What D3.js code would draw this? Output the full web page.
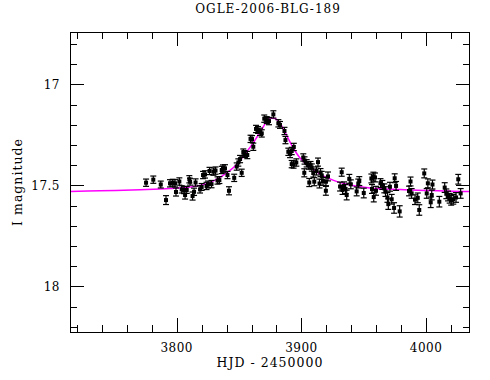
<!DOCTYPE html>
<html>
<head>
<meta charset="utf-8">
<script src="https://cdn.jsdelivr.net/npm/d3@7"></script>
<style>
  body { margin: 0; background: #fff; }
  text { font-family: "DejaVu Serif", serif; fill: #000; }
</style>
</head>
<body>
<div id="chart"></div>
<script>
// light curve
var hjd = [3775.4, 3781.2, 3787.2, 3791.4, 3794.6, 3796.8, 3798.6, 3799.4, 3802.1, 3804.0,
  3805.9, 3808.0, 3806.7, 3810.1, 3810.7, 3812.7, 3813.9, 3815.1, 3818.7, 3820.0,
  3821.1, 3822.7, 3823.9, 3825.1, 3826.3, 3827.9, 3829.4, 3831.1, 3832.7, 3834.2,
  3836.1, 3837.1, 3838.7, 3840.7, 3841.9, 3846.1, 3848.1, 3849.4, 3850.8, 3852.1,
  3853.4, 3854.4, 3856.6, 3859.2, 3860.4, 3861.4, 3863.6, 3865.2, 3866.8, 3868.2,
  3870.2, 3872.2, 3874.0, 3877.5, 3881.5, 3882.8, 3886.4, 3887.2, 3889.5, 3890.9,
  3892.2, 3893.9, 3892.2, 3893.7, 3895.9, 3901.5, 3902.5, 3904.2, 3902.3, 3905.9,
  3907.3, 3908.3, 3906.3, 3910.3, 3909.5, 3912.1, 3913.3, 3914.5, 3915.3, 3916.3,
  3917.3, 3919.7, 3919.6, 3921.3, 3931.0, 3932.3, 3933.0, 3934.2, 3935.4, 3936.3,
  3938.4, 3939.6, 3944.3, 3945.6, 3946.4, 3950.0, 3956.1, 3957.7, 3959.0, 3956.6,
  3958.0, 3959.8, 3963.4, 3964.9, 3966.5, 3967.4, 3969.0, 3969.7, 3971.0, 3972.4,
  3974.3, 3974.8, 3975.9, 3978.8, 3986.3, 3987.5, 3988.4, 3991.1, 3993.3, 3994.5,
  3998.5, 4001.4, 4005.1, 4000.5, 4004.5, 4003.7, 4010.6, 4014.9, 4016.2, 4017.6,
  4018.9, 4020.1, 4021.8, 4024.0, 4025.8, 4027.7];

var imag = [17.487, 17.472, 17.496, 17.573, 17.490, 17.487, 17.490, 17.533, 17.481, 17.520,
  17.523, 17.523, 17.548, 17.470, 17.482, 17.553, 17.532, 17.486, 17.520, 17.508,
  17.449, 17.446, 17.503, 17.496, 17.429, 17.494, 17.432, 17.427, 17.476, 17.474,
  17.424, 17.417, 17.416, 17.449, 17.527, 17.463, 17.407, 17.387, 17.370, 17.438,
  17.338, 17.345, 17.350, 17.270, 17.271, 17.309, 17.221, 17.226, 17.235, 17.243,
  17.170, 17.177, 17.182, 17.149, 17.193, 17.201, 17.231, 17.276, 17.334, 17.345,
  17.330, 17.310, 17.395, 17.397, 17.387, 17.362, 17.377, 17.391, 17.438, 17.402,
  17.400, 17.412, 17.486, 17.482, 17.439, 17.429, 17.385, 17.491, 17.437, 17.451,
  17.480, 17.482, 17.527, 17.456, 17.506, 17.435, 17.523, 17.503, 17.518, 17.548,
  17.468, 17.495, 17.530, 17.491, 17.479, 17.538, 17.466, 17.457, 17.461, 17.518,
  17.558, 17.527, 17.489, 17.498, 17.515, 17.531, 17.560, 17.593, 17.507, 17.569,
  17.612, 17.465, 17.503, 17.629, 17.528, 17.481, 17.540, 17.571, 17.562, 17.622,
  17.441, 17.490, 17.496, 17.540, 17.548, 17.584, 17.581, 17.511, 17.542, 17.553,
  17.564, 17.574, 17.569, 17.560, 17.470, 17.540];

var ierr = [0.018, 0.018, 0.017, 0.022, 0.018, 0.017, 0.018, 0.02, 0.018, 0.018,
  0.018, 0.017, 0.02, 0.018, 0.017, 0.02, 0.018, 0.018, 0.018, 0.017,
  0.018, 0.018, 0.018, 0.017, 0.018, 0.018, 0.018, 0.018, 0.018, 0.017,
  0.018, 0.018, 0.018, 0.018, 0.02, 0.018, 0.018, 0.018, 0.018, 0.018,
  0.018, 0.017, 0.018, 0.018, 0.017, 0.018, 0.018, 0.017, 0.018, 0.018,
  0.018, 0.017, 0.018, 0.018, 0.018, 0.017, 0.018, 0.018, 0.018, 0.018,
  0.018, 0.018, 0.018, 0.018, 0.018, 0.018, 0.018, 0.018, 0.02, 0.018,
  0.018, 0.018, 0.02, 0.02, 0.02, 0.02, 0.02, 0.022, 0.02, 0.02,
  0.02, 0.02, 0.022, 0.022, 0.022, 0.02, 0.022, 0.02, 0.022, 0.024,
  0.022, 0.022, 0.022, 0.022, 0.022, 0.024, 0.022, 0.022, 0.022, 0.022,
  0.024, 0.022, 0.022, 0.022, 0.022, 0.024, 0.024, 0.026, 0.022, 0.024,
  0.026, 0.022, 0.022, 0.028, 0.024, 0.022, 0.024, 0.024, 0.024, 0.026,
  0.022, 0.022, 0.022, 0.024, 0.024, 0.026, 0.026, 0.024, 0.024, 0.024,
  0.024, 0.024, 0.024, 0.024, 0.024, 0.024];

// model curve
var modelHjd = [3714.4, 3738.5, 3770.6, 3794.6, 3810.7, 3822.7, 3830.7, 3838.7, 3846.8, 3854.8,
  3862.8, 3868.4, 3872.4, 3875.6, 3878.8, 3882.8, 3886.8, 3890.9, 3894.9, 3898.9,
  3906.9, 3914.9, 3925.3, 3939.0, 3955.0, 3979.1, 4003.1, 4035.2];
var modelMag = [17.531, 17.527, 17.522, 17.516, 17.508, 17.494, 17.474, 17.444, 17.404, 17.345,
  17.276, 17.221, 17.182, 17.167, 17.169, 17.192, 17.236, 17.286, 17.330, 17.365,
  17.409, 17.444, 17.474, 17.498, 17.513, 17.521, 17.526, 17.531];

var xMajor = [3800, 3900, 4000];
var yMajor = [17, 17.5, 18];
var yLabels = ["17", "17.5", "18"];

var w = 490, h = 380;
var padL = 70, padR = 470, padT = 32, padB = 332;

var svg = d3.select("#chart").append("svg")
  .attr("width", w)
  .attr("height", h);

var xScale = d3.scaleLinear().domain([3714.4, 4035.2]).range([padL, padR]);
var yScale = d3.scaleLinear().domain([16.741, 18.226]).range([padT, padB]);

var points = hjd.map(function(d, i) {
  return {t: d, m: imag[i], e: ierr[i]};
});

// minor/major ticks, all four sides, pointing inward
var xMinor = d3.range(3720, 4035, 20);
var yMinor = d3.range(16.8, 18.25, 0.1).map(function(v) { return Math.round(v * 10) / 10; });

function isMajorX(v) { return xMajor.indexOf(v) >= 0; }
function isMajorY(v) { return yMajor.indexOf(v) >= 0; }

var ticks = svg.append("g")
  .attr("stroke", "#000")
  .attr("stroke-width", 1)
  .attr("shape-rendering", "crispEdges");

xMinor.forEach(function(v) {
  var len = isMajorX(v) ? 14 : 7;
  var x = Math.round(xScale(v)) + 0.5;
  ticks.append("line").attr("x1", x).attr("x2", x).attr("y1", padB).attr("y2", padB - len);
  ticks.append("line").attr("x1", x).attr("x2", x).attr("y1", padT).attr("y2", padT + len);
});
yMinor.forEach(function(v) {
  var len = isMajorY(v) ? 14 : 7;
  var y = Math.round(yScale(v)) + 0.5;
  ticks.append("line").attr("x1", padL).attr("x2", padL + len).attr("y1", y).attr("y2", y);
  ticks.append("line").attr("x1", padR).attr("x2", padR - len).attr("y1", y).attr("y2", y);
});

// model
var line = d3.line()
  .x(function(d, i) { return xScale(d); })
  .y(function(d, i) { return yScale(modelMag[i]); })
  .curve(d3.curveMonotoneX);

svg.append("path")
  .datum(modelHjd)
  .attr("d", line)
  .attr("fill", "none")
  .attr("stroke", "#ff00ff")
  .attr("stroke-width", 1.5);

// error bars
var eb = svg.append("g")
  .attr("stroke", "#000")
  .attr("stroke-width", 1.2);

eb.selectAll(".bar")
  .data(points)
  .enter()
  .append("line")
  .attr("x1", function(d) { return xScale(d.t); })
  .attr("x2", function(d) { return xScale(d.t); })
  .attr("y1", function(d) { return yScale(d.m - d.e); })
  .attr("y2", function(d) { return yScale(d.m + d.e); });

eb.selectAll(".capTop")
  .data(points)
  .enter()
  .append("line")
  .attr("x1", function(d) { return xScale(d.t) - 3; })
  .attr("x2", function(d) { return xScale(d.t) + 3; })
  .attr("y1", function(d) { return yScale(d.m - d.e); })
  .attr("y2", function(d) { return yScale(d.m - d.e); });

eb.selectAll(".capBot")
  .data(points)
  .enter()
  .append("line")
  .attr("x1", function(d) { return xScale(d.t) - 3; })
  .attr("x2", function(d) { return xScale(d.t) + 3; })
  .attr("y1", function(d) { return yScale(d.m + d.e); })
  .attr("y2", function(d) { return yScale(d.m + d.e); });

svg.selectAll("rect.pt")
  .data(points)
  .enter()
  .append("rect")
  .attr("class", "pt")
  .attr("x", function(d) { return xScale(d.t) - 2; })
  .attr("y", function(d) { return yScale(d.m) - 2; })
  .attr("width", 4)
  .attr("height", 4)
  .attr("fill", "#000");

// frame
svg.append("rect")
  .attr("x", padL + 0.5)
  .attr("y", padT + 0.5)
  .attr("width", padR - padL - 1)
  .attr("height", padB - padT)
  .attr("fill", "none")
  .attr("stroke", "#000")
  .attr("stroke-width", 1)
  .attr("shape-rendering", "crispEdges");

// labels
svg.selectAll("text.xt")
  .data(xMajor)
  .enter()
  .append("text")
  .attr("class", "xt")
  .attr("x", function(d) { return xScale(d); })
  .attr("y", 352)
  .attr("text-anchor", "middle")
  .style("font-size", "12px")
  .style("letter-spacing", "0.5px")
  .text(function(d) { return d; });

svg.selectAll("text.yt")
  .data(yMajor)
  .enter()
  .append("text")
  .attr("class", "yt")
  .attr("x", 60)
  .attr("y", function(d) { return yScale(d) + 4.5; })
  .attr("text-anchor", "end")
  .style("font-size", "12px")
  .style("letter-spacing", "0.5px")
  .text(function(d, i) { return yLabels[i]; });

svg.append("text")
  .attr("x", 268)
  .attr("y", 13)
  .attr("text-anchor", "middle")
  .style("font-size", "12px")
  .style("letter-spacing", "1px")
  .text("OGLE-2006-BLG-189");

svg.append("text")
  .attr("x", 270)
  .attr("y", 367)
  .attr("text-anchor", "middle")
  .style("font-size", "12.5px")
  .style("letter-spacing", "1px")
  .text("HJD - 2450000");

svg.append("text")
  .attr("transform", "translate(22,182) rotate(-90)")
  .attr("text-anchor", "middle")
  .style("font-size", "12.5px")
  .style("letter-spacing", "1px")
  .text("I magnitude");
</script>
</body>
</html>
